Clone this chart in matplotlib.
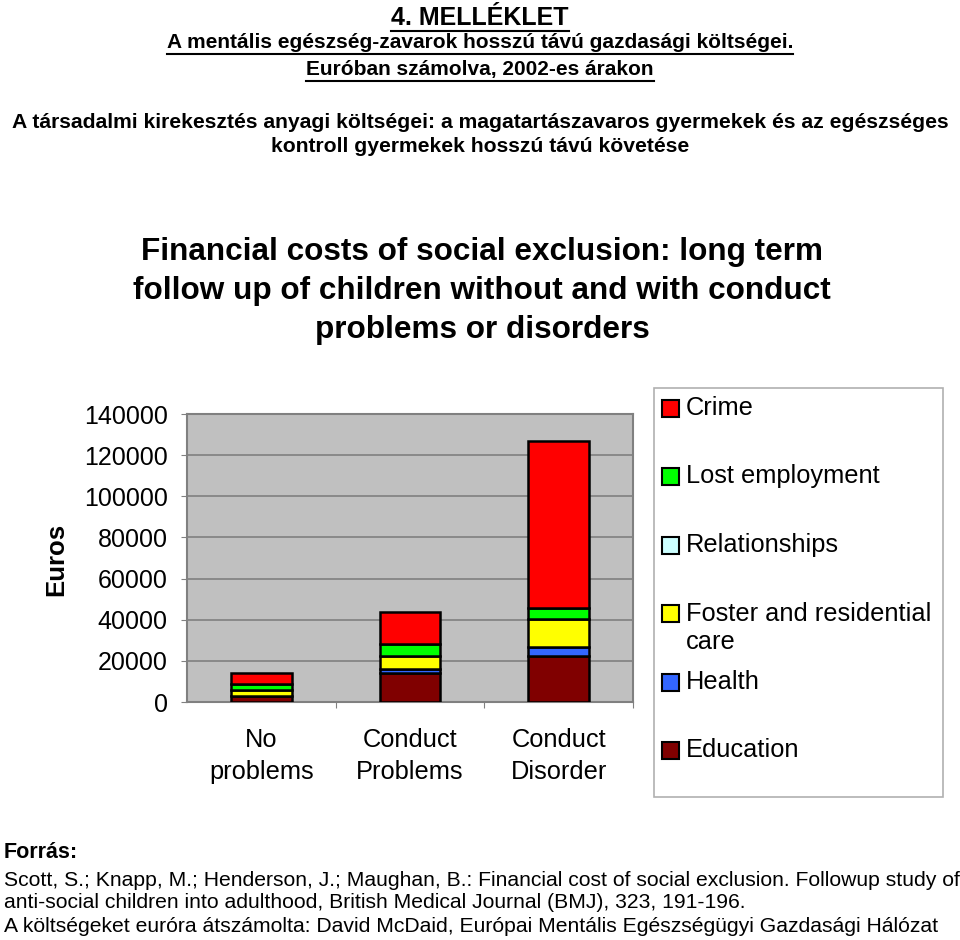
import matplotlib
matplotlib.use("Agg")
import matplotlib.pyplot as plt
from matplotlib import font_manager
from matplotlib.patches import Rectangle
from matplotlib.lines import Line2D
import numpy as np

categories = ["No\nproblems", "Conduct\nProblems", "Conduct\nDisorder"]
series_names = ["Education", "Health", "Foster and residential\ncare",
                "Relationships", "Lost employment", "Crime"]
education = [2900, 13870, 22460]
health = [250, 2130, 4240]
foster = [2570, 6120, 13850]
relationships = [0, 0, 0]
lost_employment = [3250, 6250, 5050]
crime = [5000, 15570, 81300]
series_values = [education, health, foster, relationships, lost_employment, crime]
series_colors = ["#800000", "#3366FF", "#FFFF00", "#CCFFFF", "#00FF00", "#FF0000"]
yticks = [0, 20000, 40000, 60000, 80000, 100000, 120000, 140000]

avail = {f.name for f in font_manager.fontManager.ttflist}
SANS = "Liberation Sans" if "Liberation Sans" in avail else "DejaVu Sans"
plt.rcParams["font.family"] = [SANS, "DejaVu Sans"]

W, H = 960, 940
fig = plt.figure(figsize=(W / 100, H / 100), dpi=100)

def fx(px):
    return px / W

def fy(py):
    return 1 - py / H

# Header texts
hdr = [
    ("4. MELLÉKLET", 18, 18),
    ("A mentális egészség-zavarok hosszú távú gazdasági költségei.", 43, 15),
    ("Euróban számolva, 2002-es árakon", 70, 15),
]
hdr_texts = []
for s, y, size in hdr:
    t = fig.text(0.5, fy(y), s, ha="center", va="center", fontsize=size,
                 fontweight="bold")
    hdr_texts.append(t)

fig.text(0.5, fy(123), "A társadalmi kirekesztés anyagi költségei: a magatartászavaros gyermekek és az egészséges",
         ha="center", va="center", fontsize=15.2, fontweight="bold")
fig.text(0.5, fy(146), "kontroll gyermekek hosszú távú követése",
         ha="center", va="center", fontsize=15.2, fontweight="bold")

# Chart title
fig.text(0.502, fy(291), "Financial costs of social exclusion: long term\nfollow up of children without and with conduct\nproblems or disorders",
         ha="center", va="center", fontsize=22.7, fontweight="bold", linespacing=1.40)

# Axes
ax = fig.add_axes([fx(187), fy(702), fx(633) - fx(187), fy(414) - fy(702)])
ax.set_facecolor("#C0C0C0")
x = np.arange(len(categories))
bottom = np.zeros(len(categories))
for vals, col in zip(series_values, series_colors):
    v = np.array(vals, dtype=float)
    mask = v > 0
    ax.bar(x[mask], v[mask], bottom=bottom[mask], width=0.41, color=col,
           edgecolor="black", linewidth=1.8, zorder=3)
    bottom += v
ax.set_xlim(-0.5, 2.5)
ax.set_ylim(0, 140000)
ax.set_yticks(yticks)
ax.set_yticklabels([str(v) for v in yticks], fontsize=18)
ax.yaxis.grid(True, color="#808080", linewidth=1.2, zorder=1)
ax.set_axisbelow(True)
for sp in ax.spines.values():
    sp.set_color("#808080")
    sp.set_linewidth(1.5)
ax.tick_params(axis="y", length=4, color="#808080", pad=10)
ax.set_xticks([0.5, 1.5, 2.5], minor=False)
ax.set_xticklabels([])
ax.tick_params(axis="x", length=4, color="#808080")
ax.set_xticks(x, minor=True)
ax.set_xticklabels(categories, minor=True, fontsize=18.3, linespacing=1.42)
ax.tick_params(axis="x", which="minor", length=0, pad=19)

fig.text(fx(56), fy(559), "Euros", rotation=90, ha="center", va="center",
         fontsize=18.5, fontweight="bold")

# Legend box
lx0, ly0, lx1, ly1 = 654, 388, 943, 797
fig.patches.append(Rectangle((fx(lx0), fy(ly1)), fx(lx1) - fx(lx0), fy(ly0) - fy(ly1),
                             transform=fig.transFigure, facecolor="white",
                             edgecolor="#B0B0B0", linewidth=1.2))
leg_y = [408, 476, 545, 613, 682, 750]
for i, idx in enumerate(range(len(series_names) - 1, -1, -1)):
    yy = leg_y[i]
    fig.patches.append(Rectangle((fx(662), fy(yy + 8.5)), fx(17), 17 / H,
                                 transform=fig.transFigure,
                                 facecolor=series_colors[idx], edgecolor="black",
                                 linewidth=1.5))
    label = series_names[idx]
    if "\n" in label:
        fig.text(fx(686), fy(yy + 15), label, ha="left", va="center",
                 fontsize=18.3, linespacing=1.2)
    else:
        fig.text(fx(686), fy(yy), label, ha="left", va="center", fontsize=18.3)

# Footer
fig.text(fx(4), fy(852), "Forrás:", ha="left", va="center", fontsize=15.5,
         fontweight="bold")
foot = ["Scott, S.; Knapp, M.; Henderson, J.; Maughan, B.: Financial cost of social exclusion. Followup study of",
        "anti-social children into adulthood, British Medical Journal (BMJ), 323, 191-196.",
        "A költségeket euróra átszámolta: David McDaid, Európai Mentális Egészségügyi Gazdasági Hálózat"]
for s, y in zip(foot, [880, 903, 926]):
    fig.text(fx(4), fy(y), s, ha="left", va="center", fontsize=15.2)

# underline header lines
fig.canvas.draw()
r = fig.canvas.get_renderer()
for t in hdr_texts:
    bb = t.get_window_extent(r)
    yline = bb.y0 - 1
    fig.add_artist(Line2D([bb.x0 / W, bb.x1 / W], [yline / H, yline / H],
                          transform=fig.transFigure, color="black", linewidth=1.5))

fig.savefig("out.png", dpi=100)
